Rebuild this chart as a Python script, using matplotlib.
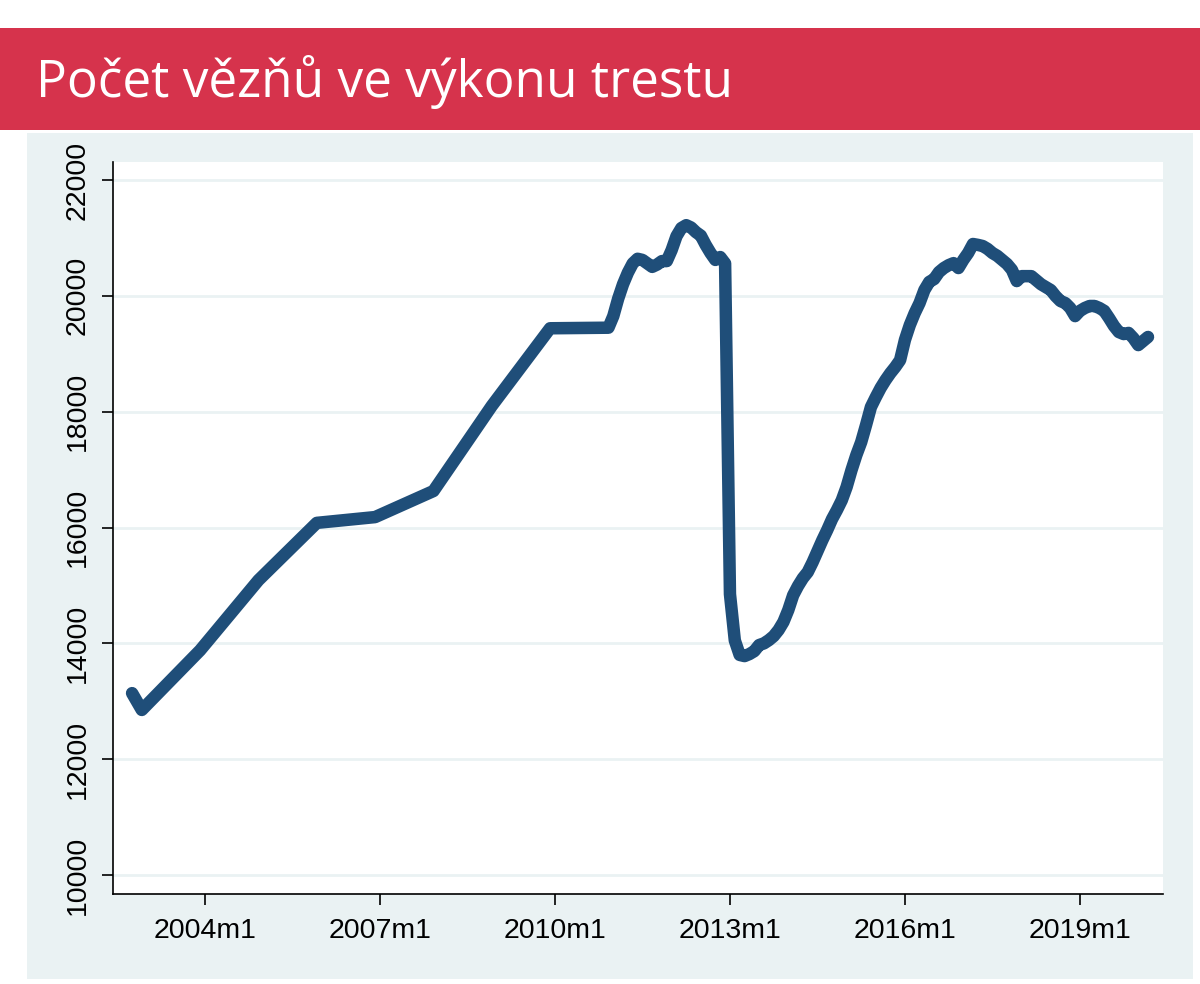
import matplotlib
matplotlib.use("Agg")
import matplotlib.pyplot as plt
from matplotlib.patches import Rectangle

# monthly counts of sentenced prisoners
months = [
    "2002-10", "2002-12", "2003-12", "2004-12", "2005-12", "2006-12", "2007-12",
    "2008-12", "2009-12", "2010-12",
    "2011-01", "2011-02", "2011-03", "2011-04", "2011-05", "2011-06",
    "2011-07", "2011-08", "2011-09", "2011-10", "2011-11", "2011-12",
    "2012-01", "2012-02", "2012-03", "2012-04", "2012-05", "2012-06",
    "2012-07", "2012-08", "2012-09", "2012-10", "2012-11", "2012-12",
    "2013-01", "2013-02", "2013-03", "2013-04", "2013-05", "2013-06",
    "2013-07", "2013-08", "2013-09", "2013-10", "2013-11", "2013-12",
    "2014-01", "2014-02", "2014-03", "2014-04", "2014-05", "2014-06",
    "2014-07", "2014-08", "2014-09", "2014-10", "2014-11", "2014-12",
    "2015-01", "2015-02", "2015-03", "2015-04", "2015-05", "2015-06",
    "2015-07", "2015-08", "2015-09", "2015-10", "2015-11", "2015-12",
    "2016-01", "2016-02", "2016-03", "2016-04", "2016-05", "2016-06",
    "2016-07", "2016-08", "2016-09", "2016-10", "2016-11", "2016-12",
    "2017-01", "2017-02", "2017-03", "2017-04", "2017-05", "2017-06",
    "2017-07", "2017-08", "2017-09", "2017-10", "2017-11", "2017-12",
    "2018-01", "2018-02", "2018-03", "2018-04", "2018-05", "2018-06",
    "2018-07", "2018-08", "2018-09", "2018-10", "2018-11", "2018-12",
    "2019-01", "2019-02", "2019-03", "2019-04", "2019-05", "2019-06",
    "2019-07", "2019-08", "2019-09", "2019-10", "2019-11", "2019-12",
    "2020-01", "2020-02", "2020-03",
]
prisoners = [
    13140, 12850, 13880, 15090, 16080, 16180, 16630,
    18100, 19440, 19450,
    19650, 19950, 20200, 20400, 20560, 20640,
    20620, 20560, 20500, 20540, 20600, 20600,
    20790, 21030, 21170, 21220, 21180, 21100,
    21040, 20880, 20740, 20620, 20670, 20560,
    14850, 14050, 13800, 13780, 13815, 13865,
    13970, 14000, 14055, 14125, 14230, 14370,
    14575, 14830, 14990, 15125, 15230, 15400,
    15590, 15780, 15955, 16145, 16300, 16470,
    16700, 16990, 17250, 17475, 17770, 18080,
    18250, 18410, 18545, 18665, 18770, 18890,
    19240, 19495, 19700, 19875, 20100, 20240,
    20290, 20410, 20480, 20530, 20565, 20480,
    20620, 20740, 20895, 20880, 20860, 20810,
    20740, 20690, 20620, 20550, 20450, 20255,
    20340, 20340, 20340, 20270, 20200, 20150,
    20100, 19995, 19910, 19875, 19790, 19650,
    19740, 19790, 19825, 19825, 19790, 19740,
    19615, 19480, 19375, 19340, 19360, 19270,
    19150, 19220, 19290,
]

x_ticks = [2004, 2007, 2010, 2013, 2016, 2019]
x_tick_labels = [f"{y}m1" for y in x_ticks]
y_ticks = [10000, 12000, 14000, 16000, 18000, 20000, 22000]

title = "Počet vězňů ve výkonu trestu"


def to_year(s):
    y, m = s.split("-")
    return int(y) + (int(m) - 1) / 12.0


x = [to_year(s) for s in months]

fig = plt.figure(figsize=(12, 9.84), dpi=100)
W, H = 1200, 984

# red title banner
fig.patches.append(Rectangle((0, 1 - 130 / H), 1, 102 / H, transform=fig.transFigure,
                             facecolor="#d6334c", edgecolor="none", zorder=-2))
fig.text(36 / W, 1 - 97 / H, title, color="white", fontsize=37,
         family="Open Sans", va="baseline", ha="left")

# stata-like graph region
fig.patches.append(Rectangle((27 / W, 1 - 979 / H), 1166 / W, 846 / H,
                             transform=fig.transFigure,
                             facecolor="#eaf2f3", edgecolor="none", zorder=-2))

ax = fig.add_axes([113 / W, 1 - 894 / H, 1050 / W, 732 / H])
ax.set_zorder(1)
ax.set_facecolor("white")
ax.plot(x, prisoners, color="#1f4e79", lw=9, solid_capstyle="round",
        solid_joinstyle="round", zorder=3)

ax.set_xlim(2002.423, 2020.424)
ax.set_ylim(9672, 22311)
ax.set_xticks(x_ticks)
ax.set_xticklabels(x_tick_labels)
ax.set_yticks(y_ticks)
ax.set_yticklabels([str(v) for v in y_ticks], rotation=90, va="center")

ax.grid(axis="y", color="#eaf2f3", lw=2)
ax.set_axisbelow(True)
for side in ["top", "right"]:
    ax.spines[side].set_visible(False)
for side in ["left", "bottom"]:
    ax.spines[side].set_linewidth(1.2)
    ax.spines[side].set_color("black")

ax.tick_params(axis="both", direction="out", length=8, width=1.2,
               labelsize=20.5, colors="black")
ax.tick_params(axis="x", pad=9)
ax.tick_params(axis="y", pad=8)
for lab in ax.get_xticklabels() + ax.get_yticklabels():
    lab.set_family("Liberation Sans")

fig.savefig("out.png", dpi=100)
